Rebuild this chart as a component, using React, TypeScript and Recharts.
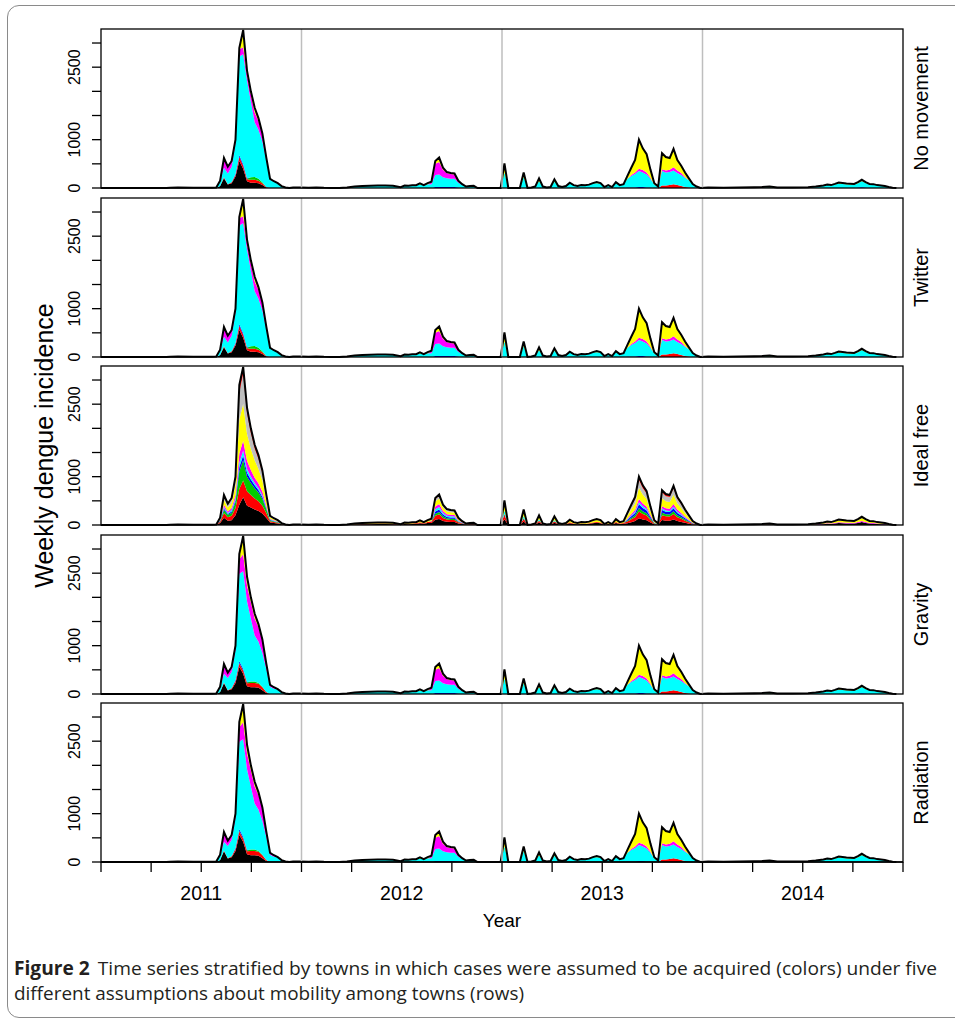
import React from "react";
import { AreaChart, Area, XAxis, YAxis, ReferenceLine } from "recharts";

// stacking order (bottom -> top), R default palette recycled
const TOWNS = ["black", "red", "green", "blue", "cyan", "magenta", "yellow", "gray", "red2"];
const TOWN_COLORS: Record<string, string> = {
  black: "#000000",
  red: "#ff0000",
  green: "#00cd00",
  blue: "#0000ff",
  cyan: "#00ffff",
  magenta: "#ff00ff",
  yellow: "#ffff00",
  gray: "#bebebe",
  red2: "#ff0000",
};

const WEEKS_PER_YEAR = 52.18; // week 0 = start of 2011

// week grids (weeks since 1 Jan 2011) of the read values
const pre2011Weeks = [0, 10, 17, 18, 20, 24, 28];
const epi2011Weeks = [29, 30, 31, 32, 33, 34, 35, 36, 37, 38, 39, 40, 41, 42, 43, 44, 45, 46, 47, 48, 49];
const midWeeks = [50, 52, 54, 56, 58, 60, 62, 64, 66, 68, 70, 72, 74, 76, 78, 79, 80, 81, 82, 83, 84];
const epi2012Weeks = [85, 86, 87, 88, 89, 90, 91, 92, 93, 94, 95, 96, 97, 98];
const gapWeeks = [100, 103, 104, 105, 106, 109, 110, 111, 112, 113, 114, 115, 116, 117, 118, 119, 120, 121, 122, 123, 124, 125, 126, 127, 128, 129, 130, 131, 132, 133, 134, 135, 136];
const epi2013Weeks = [137, 138, 139, 140, 141, 142, 143, 144, 145, 146, 147, 148, 149, 150, 151, 152, 153, 154, 155, 156];
const y2014Weeks = [158, 162, 166, 170, 172, 174, 176, 180, 184, 186, 188, 189, 190, 191, 192, 193, 194, 195, 196, 197, 198, 199, 200, 201, 202, 203, 204, 205, 206, 207];

// ---- 2011 epidemic: No movement / Twitter
const nm2011 = {
  black: [0, 0, 40, 200, 70, 100, 240, 560, 400, 140, 110, 110, 100, 60, 10, 0, 0, 0, 0, 0, 0],
  red: [0, 0, 0, 20, 10, 20, 30, 80, 60, 40, 60, 60, 50, 40, 10, 0, 0, 0, 0, 0, 0],
  green: [0, 0, 0, 0, 0, 0, 0, 0, 0, 10, 50, 60, 40, 20, 0, 0, 0, 0, 0, 0, 0],
  blue: [0, 0, 0, 0, 0, 0, 20, 40, 30, 10, 0, 0, 0, 0, 0, 0, 0, 0, 0, 0, 0],
  cyan: [5, 10, 90, 200, 220, 320, 630, 2040, 2280, 2030, 1570, 1130, 1010, 840, 560, 170, 140, 100, 40, 10, 0],
  magenta: [0, 0, 20, 200, 140, 120, 80, 150, 140, 120, 150, 200, 180, 150, 60, 20, 0, 0, 0, 0, 0],
  yellow: [0, 0, 0, 0, 0, 0, 0, 30, 360, 80, 60, 100, 60, 20, 0, 0, 0, 0, 0, 0, 0],
};

// ---- 2011 epidemic: Gravity / Radiation
const grav2011 = {
  black: [0, 0, 40, 220, 70, 100, 230, 560, 420, 160, 140, 140, 130, 80, 20, 0, 0, 0, 0, 0, 0],
  red: [0, 0, 0, 20, 10, 20, 40, 70, 60, 60, 90, 90, 80, 60, 20, 0, 0, 0, 0, 0, 0],
  green: [0, 0, 0, 0, 0, 0, 0, 10, 10, 20, 30, 30, 20, 10, 0, 0, 0, 0, 0, 0, 0],
  blue: [0, 0, 0, 0, 0, 0, 20, 40, 30, 10, 0, 0, 0, 0, 0, 0, 0, 0, 0, 0, 0],
  cyan: [5, 10, 90, 180, 250, 340, 620, 1810, 2020, 1670, 1300, 950, 850, 700, 480, 150, 110, 100, 40, 10, 0],
  magenta: [0, 0, 20, 200, 110, 100, 90, 300, 350, 330, 340, 350, 300, 260, 110, 40, 30, 0, 0, 0, 0],
  yellow: [0, 0, 0, 0, 0, 0, 0, 110, 380, 180, 100, 100, 60, 20, 10, 0, 0, 0, 0, 0, 0],
};

// ---- rest of the series, shared by No movement / Twitter / Gravity / Radiation
const restPre2011 = { cyan: [0, 0, 0, 5, 8, 3, 4] };
const restMid = {
  cyan: [12, 10, 6, 10, 4, 2, 0, 12, 30, 40, 45, 50, 52, 48, 18, 50, 45, 55, 58, 65, 60],
  yellow: [0, 0, 0, 0, 0, 0, 0, 0, 0, 0, 0, 0, 0, 0, 0, 0, 0, 0, 0, 30, 0],
};
const rest2012 = {
  blue: [0, 0, 20, 20, 20, 20, 20, 20, 10, 0, 0, 0, 0, 0],
  cyan: [80, 80, 250, 260, 200, 180, 170, 170, 100, 60, 30, 40, 45, 0],
  magenta: [0, 40, 230, 260, 160, 110, 100, 90, 40, 20, 0, 0, 0, 0],
  yellow: [20, 10, 60, 90, 40, 20, 20, 20, 0, 0, 0, 0, 0, 0],
};
const restGap = {
  cyan: [0, 0, 0, 320, 0, 0, 230, 0, 10, 30, 140, 30, 10, 20, 130, 40, 20, 40, 90, 60, 40, 60, 55, 70, 100, 100, 100, 20, 60, 20, 100, 60, 80],
  yellow: [0, 0, 0, 190, 0, 0, 90, 0, 0, 0, 60, 0, 0, 0, 50, 0, 0, 0, 20, 0, 0, 0, 0, 0, 0, 25, 0, 0, 0, 0, 20, 0, 0],
};
const rest2013 = {
  blue: [10, 10, 10, 20, 20, 10, 10, 0, 0, 0, 0, 0, 0, 0, 0, 0, 0, 0, 0, 0],
  red: [0, 0, 0, 0, 0, 0, 0, 0, 0, 50, 50, 60, 80, 60, 40, 20, 10, 0, 0, 0],
  cyan: [180, 240, 280, 330, 300, 270, 180, 70, 30, 300, 270, 270, 280, 250, 230, 190, 150, 70, 30, 0],
  magenta: [0, 20, 30, 50, 50, 40, 20, 0, 0, 40, 40, 50, 70, 50, 40, 20, 0, 0, 0, 0],
  yellow: [60, 150, 260, 600, 450, 380, 170, 30, 0, 330, 280, 240, 380, 220, 150, 90, 40, 10, 0, 0],
};
const rest2014 = {
  blue: [0, 0, 0, 0, 0, 0, 0, 0, 0, 0, 0, 0, 0, 0, 0, 0, 0, 0, 0, 10, 15, 10, 0, 0, 0, 0, 0, 0, 0, 0],
  cyan: [10, 5, 10, 15, 15, 15, 10, 10, 15, 28, 45, 60, 55, 75, 95, 85, 80, 75, 70, 90, 130, 95, 75, 70, 55, 45, 38, 20, 5, 0],
  yellow: [0, 0, 0, 0, 5, 15, 0, 0, 0, 2, 5, 10, 5, 10, 20, 20, 15, 15, 15, 20, 25, 15, 10, 10, 5, 5, 2, 0, 0, 0],
};

// ---- Ideal free
const ifPre2011 = { black: [0, 0, 0, 2, 4, 1, 2], yellow: [0, 0, 0, 3, 4, 2, 2] };
const if2011 = {
  black: [5, 5, 40, 150, 90, 100, 200, 420, 575, 400, 360, 320, 290, 240, 150, 50, 40, 30, 15, 5, 0],
  red: [0, 5, 25, 100, 70, 90, 150, 330, 345, 300, 260, 230, 200, 160, 100, 30, 20, 15, 5, 0, 0],
  green: [0, 0, 15, 60, 50, 60, 120, 360, 420, 300, 250, 210, 180, 140, 80, 20, 15, 10, 5, 0, 0],
  blue: [0, 0, 10, 30, 20, 30, 40, 90, 100, 80, 70, 60, 50, 40, 20, 10, 5, 5, 0, 0, 0],
  cyan: [0, 0, 10, 30, 20, 30, 40, 90, 100, 80, 60, 50, 40, 30, 20, 10, 10, 5, 5, 0, 0],
  magenta: [0, 0, 10, 50, 30, 40, 70, 190, 205, 170, 140, 110, 100, 80, 40, 10, 10, 5, 0, 0, 0],
  yellow: [0, 0, 20, 100, 80, 110, 200, 700, 765, 560, 440, 360, 300, 230, 120, 30, 20, 15, 5, 5, 0],
  gray: [0, 0, 15, 80, 60, 80, 140, 560, 620, 420, 320, 240, 200, 150, 80, 20, 15, 10, 5, 0, 0],
  red2: [0, 0, 5, 20, 20, 20, 40, 160, 140, 120, 100, 80, 80, 60, 30, 10, 5, 5, 0, 0, 0],
};
const ifMid = {
  black: [5, 4, 2, 4, 2, 1, 0, 5, 12, 15, 18, 20, 20, 18, 7, 20, 18, 22, 23, 35, 24],
  red: [2, 2, 1, 2, 0, 0, 0, 2, 6, 8, 9, 10, 10, 10, 4, 10, 9, 11, 12, 20, 12],
  yellow: [5, 4, 3, 4, 2, 1, 0, 5, 12, 17, 18, 20, 22, 20, 7, 20, 18, 22, 23, 40, 24],
};
const if2012 = {
  black: [40, 40, 110, 125, 85, 65, 60, 60, 30, 20, 10, 15, 15, 0],
  red: [20, 25, 80, 95, 60, 50, 45, 45, 25, 10, 5, 5, 10, 0],
  green: [0, 5, 45, 50, 35, 25, 25, 25, 10, 5, 0, 0, 0, 0],
  blue: [0, 5, 45, 50, 35, 25, 25, 25, 10, 5, 0, 0, 0, 0],
  cyan: [0, 5, 45, 50, 35, 25, 25, 20, 10, 5, 0, 0, 0, 0],
  magenta: [0, 10, 60, 65, 40, 35, 30, 30, 15, 10, 0, 0, 0, 0],
  yellow: [40, 30, 100, 115, 75, 60, 55, 55, 30, 15, 10, 15, 15, 0],
  gray: [0, 10, 50, 55, 40, 30, 30, 25, 15, 5, 5, 5, 5, 0],
  red2: [0, 0, 25, 25, 15, 15, 15, 15, 5, 5, 0, 0, 0, 0],
};
const ifGap = {
  black: [0, 0, 0, 120, 0, 0, 75, 0, 4, 10, 50, 10, 4, 7, 45, 14, 7, 14, 38, 21, 14, 21, 19, 25, 35, 44, 35, 7, 21, 7, 42, 21, 28],
  red: [0, 0, 0, 100, 0, 0, 60, 0, 2, 5, 40, 5, 2, 3, 35, 6, 3, 6, 17, 9, 6, 9, 8, 10, 15, 19, 15, 3, 9, 3, 18, 9, 12],
  cyan: [0, 0, 0, 80, 0, 0, 50, 0, 0, 0, 30, 0, 0, 0, 25, 0, 0, 0, 0, 0, 0, 0, 0, 0, 0, 0, 0, 0, 0, 0, 0, 0, 0],
  yellow: [0, 0, 0, 150, 0, 0, 95, 0, 3, 10, 55, 10, 3, 7, 50, 14, 7, 14, 38, 21, 14, 21, 20, 25, 35, 44, 35, 7, 21, 7, 42, 21, 28],
  gray: [0, 0, 0, 60, 0, 0, 40, 0, 1, 5, 25, 5, 1, 3, 25, 6, 3, 6, 17, 9, 6, 9, 8, 10, 15, 18, 15, 3, 9, 3, 18, 9, 12],
};
const if2013 = {
  black: [35, 59, 81, 140, 115, 98, 53, 14, 5, 101, 90, 87, 113, 81, 64, 45, 28, 11, 5, 0],
  red: [35, 59, 81, 140, 115, 98, 53, 14, 5, 101, 90, 87, 113, 81, 64, 45, 28, 11, 5, 0],
  green: [18, 29, 41, 70, 57, 49, 27, 7, 2, 50, 45, 43, 57, 41, 32, 22, 14, 6, 2, 0],
  blue: [20, 34, 46, 80, 66, 56, 30, 8, 2, 58, 51, 50, 65, 46, 37, 26, 16, 6, 2, 0],
  cyan: [10, 17, 23, 40, 33, 28, 15, 4, 1, 29, 26, 25, 32, 23, 18, 13, 8, 3, 1, 0],
  magenta: [17, 29, 41, 70, 57, 49, 27, 7, 2, 50, 45, 43, 57, 41, 32, 22, 14, 6, 2, 0],
  yellow: [58, 97, 133, 230, 189, 161, 87, 23, 7, 166, 147, 143, 187, 133, 106, 74, 46, 19, 7, 0],
  gray: [40, 67, 93, 160, 131, 112, 61, 16, 4, 115, 102, 99, 130, 93, 74, 51, 32, 13, 4, 0],
  red2: [17, 29, 41, 70, 57, 49, 27, 7, 2, 50, 44, 43, 56, 41, 33, 22, 14, 5, 2, 0],
};
const if2014 = {
  black: [4, 2, 4, 5, 7, 10, 4, 4, 5, 10, 18, 25, 21, 30, 40, 37, 33, 32, 30, 42, 60, 42, 30, 28, 21, 18, 14, 7, 2, 0],
  magenta: [1, 1, 1, 2, 3, 5, 1, 1, 2, 5, 7, 10, 9, 12, 17, 15, 14, 13, 12, 18, 25, 18, 12, 12, 9, 7, 6, 3, 1, 0],
  yellow: [4, 2, 4, 6, 7, 10, 4, 4, 6, 10, 18, 25, 21, 30, 40, 37, 34, 32, 30, 42, 60, 42, 31, 28, 21, 18, 14, 7, 2, 0],
  gray: [1, 0, 1, 2, 3, 5, 1, 1, 2, 5, 7, 10, 9, 13, 18, 16, 14, 13, 13, 18, 25, 18, 12, 12, 9, 7, 6, 3, 0, 0],
};

const Y_TICKS = [0, 500, 1000, 1500, 2000, 2500, 3000];
const Y_LABELED = [0, 1000, 2500];
const X_TICKS = [2011, 2011.25, 2011.5, 2011.75, 2012, 2012.25, 2012.5, 2012.75, 2013, 2013.25, 2013.5, 2013.75, 2014, 2014.25, 2014.5, 2014.75, 2015];
const YEAR_LABELS: Record<string, string> = { "2011.5": "2011", "2012.5": "2012", "2013.5": "2013", "2014.5": "2014" };
const YEAR_LINES = [2012, 2013, 2014];

type Layers = Record<string, number[]>;

function restWindows(epi2011: Layers) {
  return [
    { weeks: pre2011Weeks, layers: restPre2011 as Layers },
    { weeks: epi2011Weeks, layers: epi2011 },
    { weeks: midWeeks, layers: restMid as Layers },
    { weeks: epi2012Weeks, layers: rest2012 as Layers },
    { weeks: gapWeeks, layers: restGap as Layers },
    { weeks: epi2013Weeks, layers: rest2013 as Layers },
    { weeks: y2014Weeks, layers: rest2014 as Layers },
  ];
}

const PANELS = [
  { label: "No movement", windows: restWindows(nm2011) },
  { label: "Twitter", windows: restWindows(nm2011) },
  {
    label: "Ideal free",
    windows: [
      { weeks: pre2011Weeks, layers: ifPre2011 as Layers },
      { weeks: epi2011Weeks, layers: if2011 as Layers },
      { weeks: midWeeks, layers: ifMid as Layers },
      { weeks: epi2012Weeks, layers: if2012 as Layers },
      { weeks: gapWeeks, layers: ifGap as Layers },
      { weeks: epi2013Weeks, layers: if2013 as Layers },
      { weeks: y2014Weeks, layers: if2014 as Layers },
    ],
  },
  { label: "Gravity", windows: restWindows(grav2011) },
  { label: "Radiation", windows: restWindows(grav2011) },
];

function buildRows(windows: { weeks: number[]; layers: Layers }[]) {
  const rows: any[] = [];
  windows.forEach((w) => {
    w.weeks.forEach((wk, i) => {
      const row: any = { year: 2011 + wk / WEEKS_PER_YEAR };
      TOWNS.forEach((t) => {
        row[t] = w.layers[t] ? w.layers[t][i] : 0;
      });
      rows.push(row);
    });
  });
  return rows;
}

// layout
const W = 955;
const PLOT_LEFT = 101;
const PLOT_RIGHT = 903;
const PLOT_H = 159;
const PANEL_TOPS = [29, 198, 366, 535, 703];
const PAD = 8;
const Y_AXIS_W = 40;
const X_AXIS_H = 60;
const FONT = '"Liberation Sans", Arial, Helvetica, sans-serif';

const YTick = (props: any) => {
  const { x, y, payload } = props;
  if (!Y_LABELED.includes(payload.value)) return null;
  return (
    <text x={x} y={y} transform={`rotate(-90 ${x} ${y})`} textAnchor="middle" fontSize={16} fontFamily={FONT} fill="#000">
      {payload.value}
    </text>
  );
};

const XTick = (props: any) => {
  const { x, y, payload } = props;
  const lab = YEAR_LABELS[String(payload.value)];
  if (!lab) return null;
  return (
    <text x={x} y={y + 26} textAnchor="middle" fontSize={19.5} fontFamily={FONT} fill="#000">
      {lab}
    </text>
  );
};

function Panel({ index }: { index: number }) {
  const panel = PANELS[index];
  const isLast = index === PANELS.length - 1;
  const rows = buildRows(panel.windows);
  const height = PAD + PLOT_H + (isLast ? X_AXIS_H : PAD);
  return (
    <div style={{ position: "absolute", left: 0, top: PANEL_TOPS[index] - PAD }}>
      <AreaChart
        width={W}
        height={height}
        data={rows}
        margin={{ top: PAD, right: W - PLOT_RIGHT, bottom: isLast ? 0 : PAD, left: PLOT_LEFT - Y_AXIS_W }}
      >
        <XAxis
          type="number"
          dataKey="year"
          domain={[2011, 2015]}
          ticks={X_TICKS}
          interval={0}
          hide={!isLast}
          height={X_AXIS_H}
          tickSize={10}
          tickLine={{ stroke: "#000", strokeWidth: 1.3 }}
          axisLine={{ stroke: "#000", strokeWidth: 1.3 }}
          tick={<XTick />}
        />
        <YAxis
          type="number"
          domain={[0, 3290]}
          ticks={Y_TICKS}
          interval={0}
          width={Y_AXIS_W}
          axisLine={false}
          tickSize={9}
          tickMargin={12}
          tickLine={{ stroke: "#000", strokeWidth: 1.3 }}
          tick={<YTick />}
        />
        {YEAR_LINES.map((yr) => (
          <ReferenceLine key={yr} x={yr} stroke="#bebebe" strokeWidth={1.5} />
        ))}
        {TOWNS.map((t, i) => (
          <Area
            key={t}
            type="linear"
            dataKey={t}
            stackId="towns"
            fill={TOWN_COLORS[t]}
            fillOpacity={1}
            stroke={i === TOWNS.length - 1 ? "#000" : "none"}
            strokeWidth={2}
            isAnimationActive={false}
            dot={false}
            activeDot={false}
          />
        ))}
      </AreaChart>
    </div>
  );
}

export default function App() {
  const plotMid = (PLOT_LEFT + PLOT_RIGHT) / 2;
  return (
    <div style={{ position: "absolute", left: 0, top: 0, width: W, height: 1019, overflow: "hidden", background: "#fff" }}>
      <div
        style={{
          position: "absolute",
          left: 7,
          top: 5,
          width: 1000,
          height: 1011,
          border: "1.5px solid #8a8a8a",
          borderRadius: 12,
        }}
      />
      {PANELS.map((p, i) => (
        <Panel key={p.label} index={i} />
      ))}
      <svg width={W} height={1019} style={{ position: "absolute", left: 0, top: 0, pointerEvents: "none" }}>
        {PANEL_TOPS.map((top, i) => (
          <g key={i}>
            <rect x={PLOT_LEFT} y={top} width={PLOT_RIGHT - PLOT_LEFT} height={PLOT_H} fill="none" stroke="#000" strokeWidth={1.3} />
            <text
              x={928}
              y={top + PLOT_H / 2}
              transform={`rotate(-90 928 ${top + PLOT_H / 2})`}
              textAnchor="middle"
              fontSize={20}
              fontFamily={FONT}
              fill="#000"
            >
              {PANELS[i].label}
            </text>
          </g>
        ))}
        <text x={53} y={445.5} transform="rotate(-90 53 445.5)" textAnchor="middle" fontSize={25} fontFamily={FONT} fill="#000">
          Weekly dengue incidence
        </text>
        <text x={plotMid} y={927} textAnchor="middle" fontSize={19} fontFamily={FONT} fill="#000">
          Year
        </text>
        <text x={14} y={975} textLength={923} lengthAdjust="spacingAndGlyphs" fontSize={19} fontFamily='"Open Sans", sans-serif' fill="#231f20">
          <tspan fontWeight={700}>Figure 2</tspan>
          <tspan dx={8}>Time series stratified by towns in which cases were assumed to be acquired (colors) under five</tspan>
        </text>
        <text x={14} y={1000} textLength={510} lengthAdjust="spacingAndGlyphs" fontSize={19} fontFamily='"Open Sans", sans-serif' fill="#231f20">
          different assumptions about mobility among towns (rows)
        </text>
      </svg>
    </div>
  );
}
